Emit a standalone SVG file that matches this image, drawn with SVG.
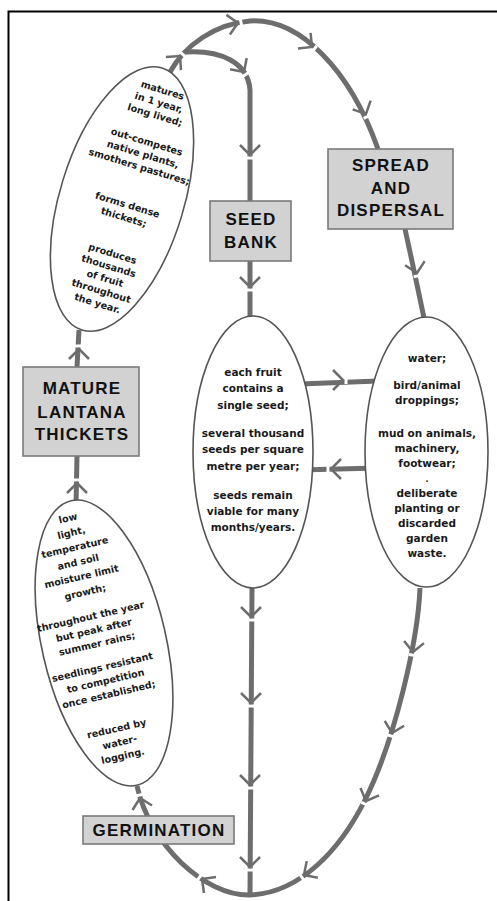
<svg xmlns="http://www.w3.org/2000/svg" xmlns:xlink="http://www.w3.org/1999/xlink" width="497" height="901" viewBox="0 0 497 901">
<style>
.ln{fill:none;stroke:#6d6d6d;stroke-width:5}
.el{fill:#fff;stroke:#555;stroke-width:1.6}
.bx{fill:#d2d2d2;stroke:#7a7a7a;stroke-width:1.6}
.t{font-family:"DejaVu Sans",sans-serif;font-weight:bold;font-size:10.5px;fill:#1a1a1a;text-anchor:middle}
.s{font-size:9.6px}
.lb{font-family:"Liberation Sans",Arial,sans-serif;font-weight:bold;font-size:17px;fill:#111;text-anchor:middle;letter-spacing:1.2px}
</style>
<defs>
<g id="chev">
<rect x="-4" y="1.5" width="8" height="3" fill="#fff"/>
<path d="M-10,-10 L0,0 L10,-10" fill="none" stroke="#6d6d6d" stroke-width="2.5"/>
</g>
</defs>
<rect x="8.5" y="11.5" width="600" height="1000" fill="none" stroke="#000" stroke-width="2"/>

<g id="connectors">
<path class="ln" d="M170,72 C185,45 215,24 250,21 C300,18 350,70 378,149"/>
<path class="ln" d="M186,52 C220,50 248,62 250,90 L250,201"/>
<path class="ln" d="M250,261 L250,316"/>
<path class="ln" d="M405,229 Q414,270 424,318"/>
<path class="ln" d="M252,588 L250,895"/>
<path class="ln" d="M420,588 C418,640 395,740 365,800 C340,850 300,893 250,895 C205,896 150,845 137,786"/>
<path class="ln" d="M300,384 L378,381"/>
<path class="ln" d="M378,468 L300,470"/>
<path class="ln" d="M77,367 L79,330"/>
<path class="ln" d="M76,505 L77,456"/>
<use xlink:href="#chev" transform="translate(180,56) rotate(-139)"/>
<use xlink:href="#chev" transform="translate(238,23) rotate(-100)"/>
<use xlink:href="#chev" transform="translate(312,47) rotate(-51)"/>
<use xlink:href="#chev" transform="translate(366,114) rotate(-26)"/>
<use xlink:href="#chev" transform="translate(244,72) rotate(-34)"/>
<use xlink:href="#chev" transform="translate(250,155)"/>
<use xlink:href="#chev" transform="translate(250,287)"/>
<use xlink:href="#chev" transform="translate(417,273) rotate(-12)"/>
<use xlink:href="#chev" transform="translate(251,617)"/>
<use xlink:href="#chev" transform="translate(251,703)"/>
<use xlink:href="#chev" transform="translate(250,785)"/>
<use xlink:href="#chev" transform="translate(250,867)"/>
<use xlink:href="#chev" transform="translate(413,652) rotate(6)"/>
<use xlink:href="#chev" transform="translate(392,733) rotate(14)"/>
<use xlink:href="#chev" transform="translate(366,801) rotate(22)"/>
<use xlink:href="#chev" transform="translate(304,875) rotate(56)"/>
<use xlink:href="#chev" transform="translate(202,879) rotate(127)"/>
<use xlink:href="#chev" transform="translate(140,798) rotate(167)"/>
<use xlink:href="#chev" transform="translate(343,380) rotate(-90)"/>
<use xlink:href="#chev" transform="translate(331,469) rotate(90)"/>
<use xlink:href="#chev" transform="translate(79,349) rotate(180)"/>
<use xlink:href="#chev" transform="translate(77,483) rotate(180)"/>
</g>

<g id="mature-traits" transform="translate(122,199) rotate(17)">
<ellipse class="el" cx="0" cy="0" rx="62" ry="137"/>
<text class="t s" x="7" y="-112.7">matures</text>
<text class="t s" x="7" y="-99.7">in 1 year,</text>
<text class="t s" x="7" y="-86.7">long lived;</text>
<text class="t s" x="7" y="-58.7">out-competes</text>
<text class="t s" x="7" y="-45.7">native plants,</text>
<text class="t s" x="7" y="-32.7">smothers pastures;</text>
<text class="t s" x="7" y="7.3">forms dense</text>
<text class="t s" x="7" y="20.3">thickets;</text>
<text class="t s" x="7" y="58.3">produces</text>
<text class="t s" x="7" y="71.3">thousands</text>
<text class="t s" x="7" y="84.3">of fruit</text>
<text class="t s" x="7" y="97.3">throughout</text>
<text class="t s" x="7" y="110.3">the year.</text>
</g>

<g id="germination-traits" transform="translate(104,643) rotate(-13)">
<ellipse class="el" cx="0" cy="0" rx="62" ry="146"/>
<text class="t s" x="-7" y="-126.5">low</text>
<text class="t s" x="-7" y="-111.5">light,</text>
<text class="t s" x="-7" y="-96.5">temperature</text>
<text class="t s" x="-7" y="-81.5">and soil</text>
<text class="t s" x="-7" y="-66.5">moisture limit</text>
<text class="t s" x="-7" y="-50.5">growth;</text>
<text class="t s" x="-7" y="-25.5">throughout the year</text>
<text class="t s" x="-7" y="-11.5">but peak after</text>
<text class="t s" x="-7" y="2.5">summer rains;</text>
<text class="t s" x="-7" y="26.5">seedlings resistant</text>
<text class="t s" x="-7" y="40.5">to competition</text>
<text class="t s" x="-7" y="54.5">once established;</text>
<text class="t s" x="-7" y="89.5">reduced by</text>
<text class="t s" x="-7" y="103.5">water-</text>
<text class="t s" x="-7" y="117.5">logging.</text>
</g>

<g id="seed-traits">
<ellipse class="el" cx="253" cy="452" rx="60" ry="136"/>
<text class="t" x="253" y="376">each fruit</text>
<text class="t" x="253" y="392">contains a</text>
<text class="t" x="253" y="409">single seed;</text>
<text class="t" x="253" y="437">several thousand</text>
<text class="t" x="253" y="453">seeds per square</text>
<text class="t" x="253" y="470">metre per year;</text>
<text class="t" x="253" y="499">seeds remain</text>
<text class="t" x="253" y="515">viable for many</text>
<text class="t" x="253" y="531">months/years.</text>
</g>

<g id="dispersal-traits">
<ellipse class="el" cx="426.5" cy="452" rx="61.5" ry="135"/>
<text class="t" x="427" y="362">water;</text>
<text class="t" x="427" y="389">bird/animal</text>
<text class="t" x="427" y="404">droppings;</text>
<text class="t" x="427" y="437">mud on animals,</text>
<text class="t" x="427" y="452">machinery,</text>
<text class="t" x="427" y="467">footwear;</text>
<text class="t" x="427" y="482" style="font-size:8px">.</text>
<text class="t" x="427" y="497">deliberate</text>
<text class="t" x="427" y="512">planting or</text>
<text class="t" x="427" y="527">discarded</text>
<text class="t" x="427" y="542">garden</text>
<text class="t" x="427" y="557">waste.</text>
</g>

<g id="mature">
<rect class="bx" x="23" y="367" width="116" height="89"/>
<text class="lb" x="82" y="394">MATURE</text>
<text class="lb" x="82" y="418">LANTANA</text>
<text class="lb" x="82" y="440">THICKETS</text>
</g>

<g id="seed-bank">
<rect class="bx" x="210" y="201" width="81" height="60"/>
<text class="lb" x="251" y="225">SEED</text>
<text class="lb" x="251" y="248">BANK</text>
</g>

<g id="spread">
<rect class="bx" x="328" y="149" width="125" height="80"/>
<text class="lb" x="391" y="171">SPREAD</text>
<text class="lb" x="391" y="194">AND</text>
<text class="lb" x="391" y="216">DISPERSAL</text>
</g>

<g id="germination">
<rect class="bx" x="83" y="816" width="151" height="28"/>
<text class="lb" x="159" y="836">GERMINATION</text>
</g>
</svg>
